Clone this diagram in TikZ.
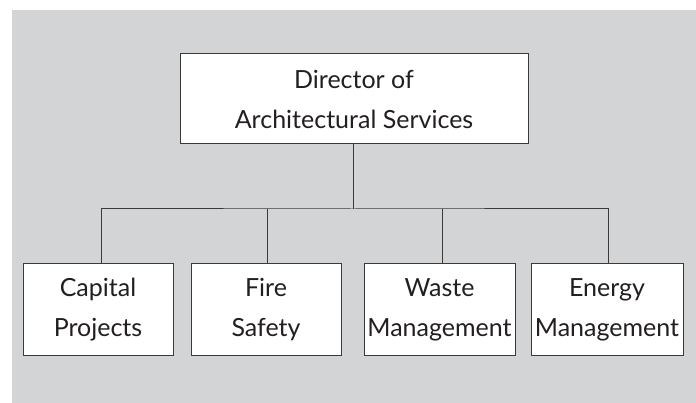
\documentclass[tikz,border=0pt]{standalone}
\usepackage{fontspec}
\setmainfont{Lato}
\definecolor{bggrey}{HTML}{D3D4D6}
\definecolor{linegrey}{HTML}{3A3A3A}
\definecolor{txt}{HTML}{231F20}
\begin{document}
\begin{tikzpicture}[x=1pt,y=-1pt,
  orgbox/.style={draw=linegrey, line width=1pt, fill=white, align=center, inner sep=0pt,
    text=txt, font=\fontsize{25}{40}\selectfont},
  conn/.style={draw=linegrey, line width=1pt}]
\useasboundingbox (0,0) rectangle (696,403);
\fill[bggrey] (12,10) rectangle (696,403);
\node[orgbox, minimum width=348pt, minimum height=90pt] (dir) at (354,99) {Director of\\Architectural Services};
\node[orgbox, minimum width=150pt, minimum height=91pt] (cap) at (98,309.5) {Capital\\Projects};
\node[orgbox, minimum width=150pt, minimum height=91pt] (fire) at (266,309.5) {Fire\\Safety};
\node[orgbox, minimum width=151pt, minimum height=91pt] (waste) at (439.5,309.5) {Waste\\Management};
\node[orgbox, minimum width=152pt, minimum height=91pt] (energy) at (607,309.5) {Energy\\Management};
\coordinate (bus) at (353,209);
\coordinate (capdrop) at ([xshift=3pt]cap.north);
\coordinate (firedrop) at ([xshift=1pt]fire.north);
\coordinate (wastedrop) at ([xshift=2.5pt]waste.north);
\coordinate (energydrop) at ([xshift=1pt]energy.north);
\draw[conn] (dir.south -| bus) -- (bus);
\draw[conn] (capdrop) |- (bus) -| (energydrop);
\draw[conn] (firedrop) -- (firedrop |- bus);
\draw[conn] (wastedrop) -- (wastedrop |- bus);
\end{tikzpicture}
\end{document}
